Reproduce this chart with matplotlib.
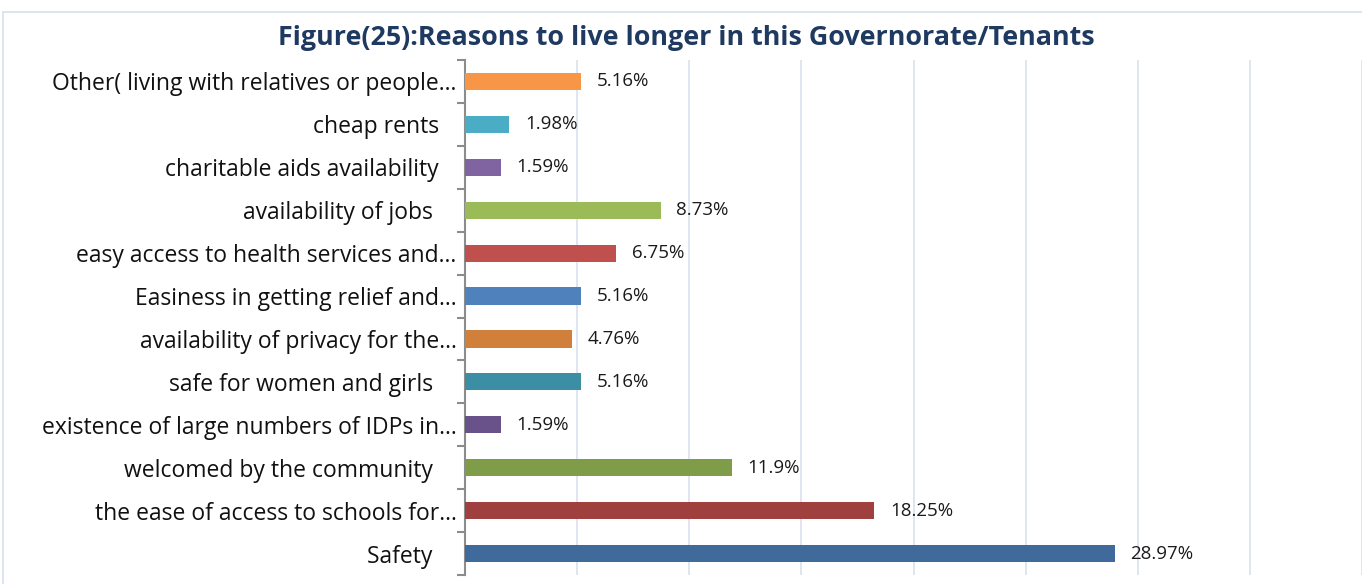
import numpy as np
import matplotlib.pyplot as plt
from matplotlib.patches import Rectangle

labels = [
    "Safety    ",
    "the ease of access to schools for…",
    "welcomed by the community    ",
    "existence of large numbers of IDPs in…",
    "safe for women and girls    ",
    "availability of privacy for the…",
    "Easiness in getting relief and…",
    "easy access to health services and…",
    "availability of jobs    ",
    "charitable aids availability   ",
    "cheap rents   ",
    "Other( living with relatives or people…",
]
values = [28.97, 18.25, 11.9, 1.59, 5.16, 4.76, 5.16, 6.75, 8.73, 1.59, 1.98, 5.16]
value_text = ["28.97%", "18.25%", "11.9%", "1.59%", "5.16%", "4.76%", "5.16%",
              "6.75%", "8.73%", "1.59%", "1.98%", "5.16%"]
colors = ["#416A9C", "#A0403E", "#7F9C48", "#69518A", "#3C8EA4", "#D1803C",
          "#4F81BD", "#C0504D", "#9BBB59", "#8064A2", "#4BACC6", "#F79646"]

plt.rcParams['font.family'] = ['Open Sans', 'DejaVu Sans']

fig = plt.figure(figsize=(13.62, 5.84), dpi=100)
fig.patches.append(Rectangle((3 / 1362, -0.1), 1.2, 1 - 12 / 584 + 0.1,
                             transform=fig.transFigure, fill=False,
                             edgecolor="#D6DFEE", linewidth=1.2))
ax = fig.add_axes([465 / 1362, 9 / 584, 1 - 465 / 1362, 515 / 584])

y = np.arange(len(values))
ax.barh(y, values, height=0.4, color=colors, zorder=3)
for yi, v, t in zip(y, values, value_text):
    ax.text(v + 0.7, yi, t, va="center", ha="left", fontsize=13.5, color="#1a1a1a")

ax.set_xlim(0, 40)
ax.set_ylim(-0.5, len(values) - 0.5)
ax.set_xticks(np.arange(0, 41, 5))
ax.tick_params(axis="x", length=0, labelbottom=False)
ax.grid(axis="x", color="#DCE4F0", linewidth=1.3, zorder=0)

ax.set_yticks(y)
ax.set_yticklabels(labels, fontsize=16.5, color="#111111")
ax.tick_params(axis="y", which="major", length=0, pad=6)
ax.set_yticks(np.arange(-0.5, len(values), 1), minor=True)
ax.tick_params(axis="y", which="minor", length=6, width=1.5, color="#8C8C8C")

for s in ["top", "right", "bottom"]:
    ax.spines[s].set_visible(False)
ax.spines["left"].set_color("#8C8C8C")
ax.spines["left"].set_linewidth(1.5)

fig.text(686 / 1362, 1 - 38 / 584, "Figure(25):Reasons to live longer in this Governorate/Tenants",
         ha="center", va="center", fontsize=19.4, fontweight="bold", color="#1F3A60")

fig.savefig("out.png", dpi=100)
